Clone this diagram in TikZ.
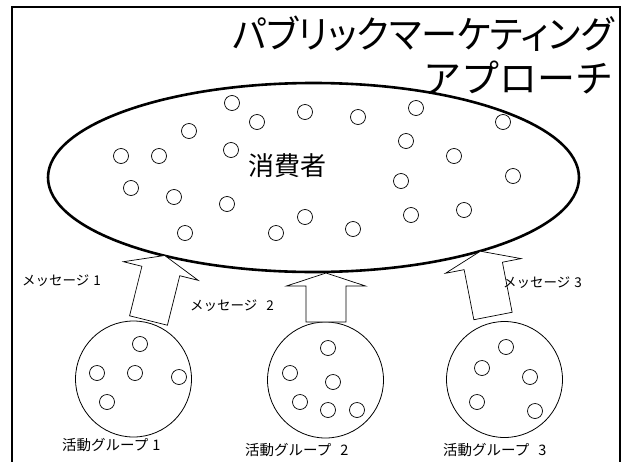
\documentclass[tikz,border=0pt]{standalone}
\usepackage{fontspec}
\setmainfont{Noto Sans CJK JP}
\newfontfamily\jpprop{Noto Sans CJK JP}[RawFeature=+palt]
\begin{document}
\begin{tikzpicture}[x=1pt,y=-1pt,
  dot/.style={circle, draw, line width=0.7pt, minimum size=15pt, inner sep=0pt},
  grp/.style={circle, draw, line width=0.8pt, minimum size=116pt, inner sep=0pt},
  lbl/.style={font=\fontsize{13.5}{15}\selectfont, inner sep=0pt, anchor=west},
  glbl/.style={font=\fontsize{14.5}{16}\selectfont, inner sep=0pt, anchor=west},
  ttl/.style={anchor=east, inner sep=0pt, font=\fontsize{38}{40}\selectfont},
  blockarrow/.style={draw, line width=0.7pt, fill=white, line join=miter}]
\useasboundingbox (0,0) rectangle (624,461);
% frame
\draw[line width=2.4pt] (12,475) -- (12,7) -- (620,7) -- (620,475);
% title
\node[ttl] (t1) at (614,34) {\scalebox{0.952}[1]{\jpprop パブリックマーケティング}};
\node[ttl] (t2) at (614,77) {アプローチ};
% consumers ellipse
\draw[line width=2.6pt] (313.5,177.5) ellipse [x radius=265.5, y radius=94.5];
\node[inner sep=0pt, font=\fontsize{26}{30}\selectfont] (cons) at (287,166) {消費者};
\foreach \p [count=\i] in {(232,103),(257,122),(305,112),(358,117),(416,108),(503,122),(189,131),(121,156),(159,156),(231,150),(406,141),(454,156),(513,176),(401,181),(131,188),(174,197),(227,204),(185,233),(276,233),(305,217),(353,229),(411,215),(464,210)}
  \node[dot] (c\i) at \p {};
% groups
\node[grp] (g1) at (133.5,379) {};
\node[grp] (g2) at (325.5,380) {};
\node[grp] (g3) at (504.5,379.5) {};
\foreach \p [count=\i] in {(140,344),(97,373),(135,373),(179,377),(107,402)}
  \node[dot] (ga\i) at \p {};
\foreach \p [count=\i] in {(328,348),(290,373),(333,382),(300,402),(328,410),(357,410)}
  \node[dot] (gb\i) at \p {};
\foreach \p [count=\i] in {(506,347),(482,368),(530,377),(477,402),(535,411)}
  \node[dot] (gc\i) at \p {};
% block arrows
\begin{scope}[shift={(148.5,320.5)}, rotate=-14]
  \draw[blockarrow] (-19.5,0) -- (-19.5,-51) -- (-38.5,-51) -- (0,-67) -- (38.5,-51) -- (19.5,-51) -- (19.5,0) -- cycle;
\end{scope}
\begin{scope}[shift={(326,322)}]
  \draw[blockarrow] (-20,0) -- (-20,-36) -- (-39.5,-36) -- (0,-49) -- (39.5,-36) -- (20,-36) -- (20,0) -- cycle;
\end{scope}
\begin{scope}[shift={(493,316)}, rotate=11]
  \draw[blockarrow] (-19.5,0) -- (-19.5,-51) -- (-38.5,-51) -- (0,-66) -- (38.5,-51) -- (19.5,-51) -- (19.5,0) -- cycle;
\end{scope}
% labels
\node[lbl] (m1) at (22,281) {メッセージ\hspace{4pt}1};
\node[lbl] (m2) at (190,306) {メッセージ\hspace{9pt}2};
\node[lbl] (m3) at (503,283) {メッセージ\hspace{4pt}3};
\node[glbl] (a1) at (62,445) {活動グループ\hspace{4pt}1};
\node[glbl] (a2) at (245,450) {活動グループ\hspace{9pt}2};
\node[glbl] (a3) at (443,450) {活動グループ\hspace{9pt}3};
\end{tikzpicture}
\end{document}
